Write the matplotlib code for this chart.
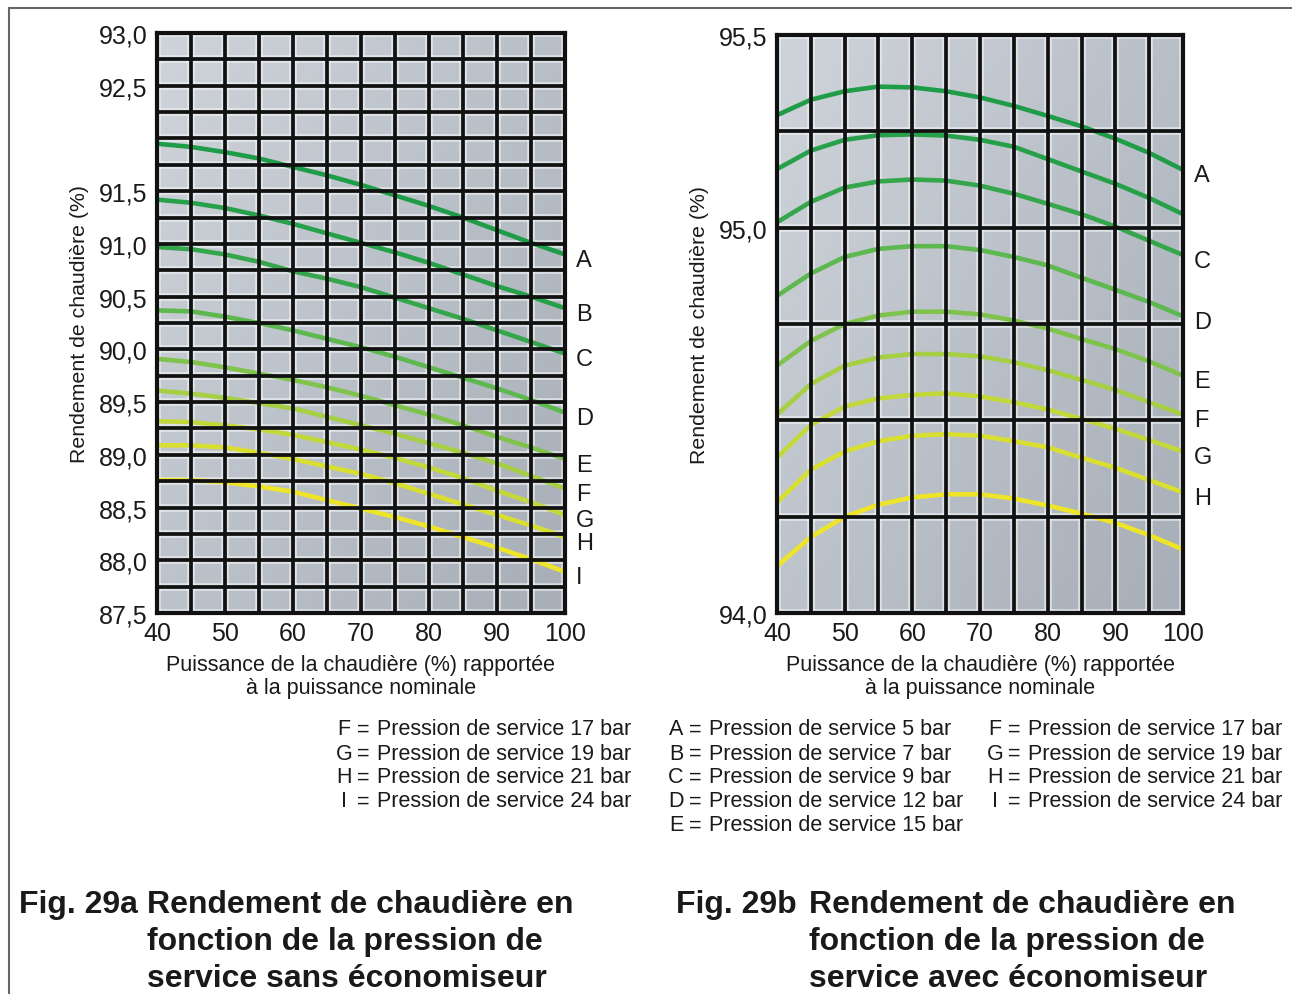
import numpy as np
import matplotlib
matplotlib.use("Agg")
import matplotlib.pyplot as plt
from matplotlib.lines import Line2D

plt.rcParams['font.family'] = ['Liberation Sans', 'DejaVu Sans']

# data
x = [40, 45, 50, 55, 60, 65, 70, 75, 80, 85, 90, 95, 100]

# Fig. 29a - sans economiseur
left_names = ['A', 'B', 'C', 'D', 'E', 'F', 'G', 'H', 'I']
left_A = [91.95, 91.92, 91.87, 91.81, 91.73, 91.65, 91.56, 91.46, 91.36, 91.25, 91.13, 91.01, 90.90]
left_B = [91.42, 91.39, 91.34, 91.27, 91.19, 91.10, 91.01, 90.92, 90.82, 90.71, 90.60, 90.50, 90.39]
left_C = [90.97, 90.95, 90.90, 90.83, 90.74, 90.67, 90.59, 90.49, 90.39, 90.29, 90.18, 90.07, 89.96]
left_D = [90.37, 90.36, 90.31, 90.25, 90.18, 90.10, 90.02, 89.93, 89.83, 89.73, 89.63, 89.52, 89.40]
left_E = [89.91, 89.88, 89.83, 89.77, 89.71, 89.64, 89.56, 89.47, 89.38, 89.28, 89.17, 89.07, 88.96]
left_F = [89.61, 89.58, 89.54, 89.49, 89.44, 89.36, 89.28, 89.20, 89.11, 89.02, 88.92, 88.80, 88.68]
left_G = [89.32, 89.31, 89.28, 89.24, 89.19, 89.12, 89.05, 88.97, 88.88, 88.78, 88.66, 88.55, 88.43]
left_H = [89.09, 89.09, 89.07, 89.02, 88.96, 88.89, 88.82, 88.73, 88.63, 88.53, 88.43, 88.33, 88.22]
left_I = [88.76, 88.76, 88.74, 88.70, 88.65, 88.57, 88.49, 88.41, 88.32, 88.22, 88.12, 88.01, 87.89]
left_yticks = [93.0, 92.5, 91.5, 91.0, 90.5, 90.0, 89.5, 89.0, 88.5, 88.0, 87.5]

# Fig. 29b - avec economiseur (no B / I label on the curve in the original)
right_names = ['A', '', 'C', 'D', 'E', 'F', 'G', 'H', '']
right_A = [95.292, 95.332, 95.354, 95.366, 95.364, 95.354, 95.338, 95.316, 95.290, 95.263, 95.231, 95.194, 95.150]
right_B = [95.152, 95.200, 95.228, 95.240, 95.242, 95.239, 95.228, 95.210, 95.178, 95.146, 95.114, 95.077, 95.035]
right_C = [95.014, 95.067, 95.104, 95.120, 95.125, 95.122, 95.109, 95.088, 95.062, 95.035, 95.003, 94.966, 94.929]
right_D = [94.823, 94.881, 94.924, 94.945, 94.952, 94.952, 94.942, 94.924, 94.902, 94.870, 94.839, 94.807, 94.770]
right_E = [94.642, 94.706, 94.750, 94.772, 94.782, 94.782, 94.775, 94.759, 94.738, 94.711, 94.685, 94.653, 94.616]
right_F = [94.515, 94.594, 94.642, 94.663, 94.672, 94.672, 94.666, 94.651, 94.630, 94.605, 94.579, 94.547, 94.515]
right_G = [94.403, 94.488, 94.536, 94.557, 94.566, 94.570, 94.562, 94.547, 94.528, 94.504, 94.478, 94.449, 94.419]
right_H = [94.287, 94.372, 94.419, 94.446, 94.460, 94.464, 94.460, 94.446, 94.430, 94.403, 94.377, 94.345, 94.313]
right_I = [94.122, 94.197, 94.250, 94.281, 94.300, 94.308, 94.308, 94.297, 94.279, 94.258, 94.234, 94.202, 94.165]
right_yticks = [95.5, 95.0, 94.0]

xticks = [40, 50, 60, 70, 80, 90, 100]

colors = ['#1f9c48', '#27a04a', '#35a64b', '#5db84f', '#80c34c', '#a6cf44', '#c3d93b', '#d9df31', '#eee528']

legend_left = [('F', '17'), ('G', '19'), ('H', '21'), ('I', '24')]
legend_mid = [('A', '5'), ('B', '7'), ('C', '9'), ('D', '12'), ('E', '15')]
legend_right = [('F', '17'), ('G', '19'), ('H', '21'), ('I', '24')]

title_a = ['Rendement de chaudière en', 'fonction de la pression de', 'service sans économiseur']
title_b = ['Rendement de chaudière en', 'fonction de la pression de', 'service avec économiseur']

TXT = '#1a1a1a'
W, H = 1292, 995
fig = plt.figure(figsize=(W / 100, H / 100), dpi=100)


def px_axes(l, t, r, b):
    return fig.add_axes([l / W, 1 - b / H, (r - l) / W, (b - t) / H])


def draw_panel(ax, series, names, ymin, ymax, ystep, yticks):
    ax.set_xlim(40, 100)
    ax.set_ylim(ymin, ymax)
    # grey gradient background of the cells
    gx, gy = np.meshgrid(np.linspace(0, 1, 60), np.linspace(0, 1, 60))
    shade = 0.55 * gx + 0.45 * gy
    ax.imshow(shade, extent=(40, 100, ymin, ymax), origin='upper', aspect='auto',
              cmap=matplotlib.colors.LinearSegmentedColormap.from_list('g', ['#cfd4da', '#a7aeb7']),
              zorder=0)
    for i, ys in enumerate(series):
        ax.plot(x, ys, color=colors[i], lw=3.3, zorder=2, solid_capstyle='butt')
    gv = np.arange(40, 100.1, 5)
    gh = np.arange(ymin, ymax + 1e-9, ystep)
    for v in gv:
        ax.axvline(v, color='#eef1f4', lw=5.5, alpha=0.7, zorder=1)
        ax.axvline(v, color='#111111', lw=2.7, zorder=3)
    for h in gh:
        ax.axhline(h, color='#eef1f4', lw=5.5, alpha=0.7, zorder=1)
        ax.axhline(h, color='#111111', lw=2.7, zorder=3)
    for s in ax.spines.values():
        s.set_color('#111111')
        s.set_linewidth(3)
        s.set_zorder(4)
    ax.set_xticks(xticks)
    ax.set_xticklabels([str(t) for t in xticks])
    ax.set_yticks(yticks)
    ax.set_yticklabels([f'{t:.1f}'.replace('.', ',') for t in yticks])
    ax.tick_params(length=0, labelsize=18, pad=7, colors=TXT)
    ax.tick_params(axis='x', pad=6)
    ax.set_xlabel('Puissance de la chaudière (%) rapportée\nà la puissance nominale',
                  fontsize=15.5, labelpad=6, linespacing=1.15, color=TXT)
    ax.set_ylabel('Rendement de chaudière (%)', fontsize=15.3, labelpad=7, color=TXT)
    for i, ys in enumerate(series):
        if names[i]:
            ax.annotate(names[i], xy=(100, ys[-1]), xytext=(8, -4), textcoords='offset points',
                        va='center', ha='left', fontsize=17, color=TXT, annotation_clip=False)


axL = px_axes(157, 34, 565, 614)
draw_panel(axL, [left_A, left_B, left_C, left_D, left_E, left_F, left_G, left_H, left_I],
           left_names, 87.5, 93.0, 0.25, left_yticks)

axR = px_axes(777, 36, 1183, 614)
draw_panel(axR, [right_A, right_B, right_C, right_D, right_E, right_F, right_G, right_H, right_I],
           right_names, 94.0, 95.5, 0.25, right_yticks)


def legend_col(items, x0, y0):
    for k, (letter, bar) in enumerate(items):
        y = 1 - (y0 + 24 * k) / H
        fig.text(x0 / W, y, letter, ha='center', va='center', fontsize=15.5, color=TXT)
        fig.text((x0 + 19) / W, y, '=', ha='center', va='center', fontsize=15.5, color=TXT)
        fig.text((x0 + 33) / W, y, f'Pression de service {bar} bar', ha='left', va='center',
                 fontsize=15.5, color=TXT)


legend_col(legend_left, 344, 730)
legend_col(legend_mid, 676, 730)
legend_col(legend_right, 995, 730)


def caption(x_fig, x_txt, label, lines):
    fig.text(x_fig / W, 1 - 905 / H, label, ha='left', va='center', fontsize=23,
             fontweight='bold', color=TXT)
    for k, line in enumerate(lines):
        fig.text(x_txt / W, 1 - (905 + 37 * k) / H, line, ha='left', va='center',
                 fontsize=23, fontweight='bold', color=TXT)


caption(19, 147, 'Fig. 29a', title_a)
caption(676, 809, 'Fig. 29b', title_b)

# page frame (top and left rules)
fig.add_artist(Line2D([9 / W, 1], [1 - 9 / H, 1 - 9 / H], color='#666666', lw=1.5))
fig.add_artist(Line2D([9 / W, 9 / W], [0, 1 - 9 / H], color='#666666', lw=1.5))

fig.savefig('out.png', dpi=100)
